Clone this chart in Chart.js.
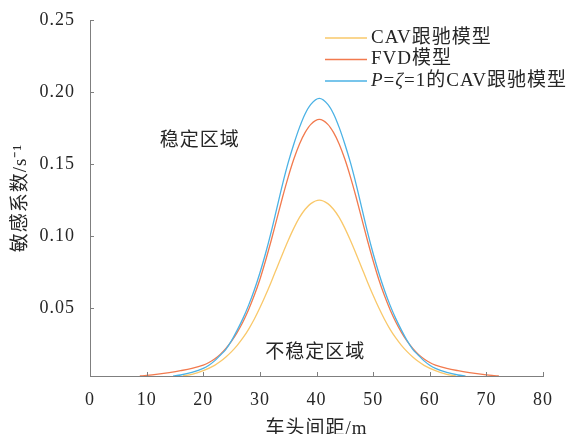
<!DOCTYPE html>
<html>
<head>
<meta charset="utf-8">
<script src="https://cdn.jsdelivr.net/npm/chart.js@4.4.1/dist/chart.umd.min.js"></script>
<style>
  html, body { margin: 0; padding: 0; background: #fff; }
  #wrap { width: 572px; height: 434px; position: relative; }
</style>
</head>
<body>
<div id="wrap"><canvas id="chart"></canvas></div>
<script>
// values
const xTicks = [0, 10, 20, 30, 40, 50, 60, 70, 80];
const yTicks = [0.05, 0.10, 0.15, 0.20, 0.25];

const seriesNames = ['CAV跟驰模型', 'FVD模型', 'P=ζ=1的CAV跟驰模型'];
const seriesColors = ['#F9C86A', '#F27A4E', '#4BB2E5'];

const cavX = [16.4, 18, 20, 22, 23, 24, 25, 26, 27, 28, 29, 30, 31, 32, 33, 34, 35, 36, 37, 38, 39, 40.5,
  42, 43, 44, 45, 46, 47, 48, 49, 50, 51, 52, 53, 54, 55, 56, 57, 58, 59, 61, 63, 64.6];
const cavY = [0.003, 0.0042, 0.0067, 0.0104, 0.0130, 0.0162, 0.0199, 0.0243, 0.0294, 0.0354, 0.0424,
  0.0503, 0.0590, 0.0683, 0.0780, 0.0877, 0.0970, 0.1056, 0.1130, 0.1187, 0.1226, 0.125,
  0.1226, 0.1187, 0.1130, 0.1056, 0.0970, 0.0877, 0.0780, 0.0683, 0.0590, 0.0503, 0.0424, 0.0354,
  0.0294, 0.0243, 0.0199, 0.0162, 0.0130, 0.0104, 0.0067, 0.0042, 0.003];

const fvdX = [8.8, 10, 12, 14, 16, 18, 20, 21, 22, 23, 24, 25, 26, 27, 28, 29, 30, 31, 32, 33, 34, 35, 36, 37, 38, 39, 40.5,
  42, 43, 44, 45, 46, 47, 48, 49, 50, 51, 52, 53, 54, 55, 56, 57, 58, 59, 60, 61, 63, 65, 67, 69, 71, 72.2];
const fvdY = [0.003, 0.0034, 0.0043, 0.0054, 0.0067, 0.0083, 0.0106, 0.0124, 0.0148, 0.0180, 0.0222,
  0.0272, 0.0333, 0.0405, 0.0490, 0.0588, 0.0700, 0.0830, 0.0970, 0.1120, 0.1270, 0.1410, 0.1535,
  0.1640, 0.1720, 0.1776, 0.181,
  0.1776, 0.1720, 0.1640, 0.1535, 0.1410, 0.1270, 0.1120, 0.0970, 0.0830, 0.0700, 0.0588, 0.0490,
  0.0405, 0.0333, 0.0272, 0.0222, 0.0180, 0.0148, 0.0124, 0.0106, 0.0083, 0.0067, 0.0054, 0.0043,
  0.0034, 0.003];

const pzX = [14.7, 16, 18, 20, 21, 22, 23, 24, 25, 26, 27, 28, 29, 30, 31, 32, 33, 34, 35, 36, 37, 38, 39, 40.5,
  42, 43, 44, 45, 46, 47, 48, 49, 50, 51, 52, 53, 54, 55, 56, 57, 58, 59, 60, 61, 63, 65, 66.3];
const pzY = [0.003, 0.0037, 0.0055, 0.0083, 0.0105, 0.0135, 0.0174, 0.0215, 0.0275, 0.0348, 0.0428,
  0.0520, 0.0625, 0.0745, 0.0880, 0.1030, 0.1195, 0.1360, 0.1510, 0.1640, 0.1755, 0.1850, 0.1915, 0.1956,
  0.1915, 0.1850, 0.1755, 0.1640, 0.1510, 0.1360, 0.1195, 0.1030, 0.0880, 0.0745, 0.0625, 0.0520,
  0.0428, 0.0348, 0.0275, 0.0215, 0.0174, 0.0135, 0.0105, 0.0083, 0.0055, 0.0037, 0.003];

// region annotations, in data coordinates
const regionText = ['稳定区域', '不稳定区域'];
const regionX = [19.4, 39.8];
const regionY = [0.166, 0.019];

const textColor = '#262626';
const axisColor = '#7f7f7f';
const fontFamily = "'Liberation Serif', 'Noto Sans CJK SC', serif";
const italicChars = ['P', 'ζ'];

const pairs = (xs, ys) => xs.map((v, i) => ({ x: v, y: ys[i] }));

// draw text with some characters in italic (legend label with P and ζ)
function drawRich(ctx, text, x, y, size) {
  let runs = [];
  for (const ch of text) {
    const it = italicChars.includes(ch);
    if (runs.length && runs[runs.length - 1].it === it) runs[runs.length - 1].t += ch;
    else runs.push({ t: ch, it });
  }
  runs.forEach(r => {
    ctx.font = (r.it ? 'italic ' : '') + size + 'px ' + fontFamily;
    ctx.fillText(r.t, x, y);
    x += ctx.measureText(r.t).width;
  });
}

const decor = {
  id: 'decor',
  beforeDraw(chart) {
    chart.ctx.letterSpacing = '1px';
  },
  afterDraw(chart) {
    const { ctx, chartArea: a, scales: { x, y } } = chart;
    ctx.save();

    // inward tick marks
    ctx.strokeStyle = axisColor;
    ctx.lineWidth = 1;
    ctx.beginPath();
    xTicks.forEach(v => {
      const px = Math.round(x.getPixelForValue(v)) + 0.5;
      ctx.moveTo(px, a.bottom);
      ctx.lineTo(px, a.bottom - 4);
    });
    yTicks.forEach(v => {
      const py = Math.round(y.getPixelForValue(v)) + 0.5;
      ctx.moveTo(a.left, py);
      ctx.lineTo(a.left + 4, py);
    });
    ctx.stroke();

    // region labels
    ctx.fillStyle = textColor;
    ctx.font = '19px ' + fontFamily;
    ctx.textAlign = 'center';
    ctx.textBaseline = 'middle';
    regionText.forEach((t, i) => {
      ctx.fillText(t, x.getPixelForValue(regionX[i]), y.getPixelForValue(regionY[i]));
    });

    // legend in the top right corner
    ctx.textAlign = 'left';
    const lx = a.right - 218;
    chart.data.datasets.forEach((ds, i) => {
      const ly = a.top + 18 + i * 21.5;
      ctx.strokeStyle = ds.borderColor;
      ctx.lineWidth = 1.3;
      ctx.beginPath();
      ctx.moveTo(lx, ly);
      ctx.lineTo(lx + 42, ly);
      ctx.stroke();
      ctx.fillStyle = textColor;
      drawRich(ctx, ds.label, lx + 46, ly, 19);
    });

    ctx.restore();
  }
};

new Chart(document.getElementById('chart'), {
  type: 'line',
  data: {
    datasets: [
      { label: seriesNames[0], data: pairs(cavX, cavY), borderColor: seriesColors[0], order: 3 },
      { label: seriesNames[1], data: pairs(fvdX, fvdY), borderColor: seriesColors[1], order: 2 },
      { label: seriesNames[2], data: pairs(pzX, pzY), borderColor: seriesColors[2], order: 1 }
    ].map(d => Object.assign(d, {
      borderWidth: 1.3,
      pointRadius: 0,
      fill: false,
      cubicInterpolationMode: 'monotone'
    }))
  },
  options: {
    responsive: true,
    maintainAspectRatio: false,
    animation: false,
    layout: { padding: { left: 0, top: 20, right: 29, bottom: 0 } },
    plugins: {
      legend: { display: false },
      tooltip: { enabled: false }
    },
    scales: {
      x: {
        type: 'linear',
        min: 0,
        max: 80,
        afterFit: s => { s.height = 58; },
        afterBuildTicks: s => { s.ticks = xTicks.map(v => ({ value: v })); },
        ticks: {
          color: textColor,
          padding: 5,
          maxRotation: 0,
          font: { family: fontFamily, size: 18 }
        },
        grid: { display: false },
        border: { display: true, color: axisColor, width: 1 },
        title: {
          display: true,
          text: '车头间距/m',
          color: textColor,
          padding: { top: 0, bottom: 0 },
          font: { family: fontFamily, size: 19, lineHeight: 0.55 }
        }
      },
      y: {
        min: 0.003,
        max: 0.25,
        afterFit: s => { s.width = 90; },
        afterBuildTicks: s => { s.ticks = yTicks.map(v => ({ value: v })); },
        ticks: {
          color: textColor,
          padding: 7,
          callback: v => v.toFixed(2),
          font: { family: fontFamily, size: 18 }
        },
        grid: { display: false },
        border: { display: true, color: axisColor, width: 1 },
        title: {
          display: true,
          text: '敏感系数/s⁻¹',
          color: textColor,
          padding: { top: 10, bottom: 0 },
          font: { family: fontFamily, size: 19, lineHeight: 1.2 }
        }
      }
    }
  },
  plugins: [decor]
});
</script>
</body>
</html>
